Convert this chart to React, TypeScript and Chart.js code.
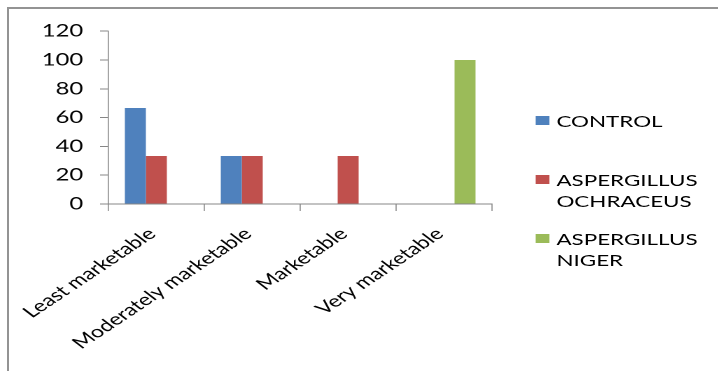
import { useEffect, useRef } from "react";
import { Chart, registerables } from "chart.js";

Chart.register(...registerables);

const categories = ["Least marketable", "Moderately marketable", "Marketable", "Very marketable"];
const seriesNames = ["CONTROL", "ASPERGILLUS OCHRACEUS", "ASPERGILLUS NIGER"];
const controlValues = [66.67, 33.33, 0, 0];
const ochraceusValues = [33.33, 33.33, 33.33, 0];
const nigerValues = [0, 0, 0, 100];
const seriesValues = [controlValues, ochraceusValues, nigerValues];
const seriesColors = ["#4F81BD", "#C0504D", "#9BBB59"];
const legendLines = [["CONTROL"], ["ASPERGILLUS", "OCHRACEUS"], ["ASPERGILLUS", "NIGER"]];
const legendTops = [101, 160, 219];
const yMin = 0;
const yMax = 120;
const yStep = 20;

const S = 1.4;
const FONT = "Lato, 'Open Sans', sans-serif";

export default function App() {
  const ref = useRef<HTMLCanvasElement>(null);
  useEffect(() => {
    const chart = new Chart(ref.current!, {
      type: "bar",
      data: {
        labels: categories,
        datasets: seriesNames.map((n, i) => ({
          label: n,
          data: seriesValues[i],
          backgroundColor: seriesColors[i],
          borderWidth: 0,
          categoryPercentage: 0.656,
          barPercentage: 1,
        })),
      },
      options: {
        animation: false,
        responsive: true,
        maintainAspectRatio: false,
        devicePixelRatio: 2,
        layout: { padding: { top: 20, right: 155, left: 0, bottom: 0 } },
        plugins: { legend: { display: false }, tooltip: { enabled: false } },
        scales: {
          x: {
            grid: {
              display: true,
              drawOnChartArea: false,
              drawTicks: true,
              tickLength: 7,
              color: "#868686",
              lineWidth: 0.75,
              offset: true,
            },
            border: { display: true, color: "#868686", width: 1 },
            ticks: {
              minRotation: 43,
              maxRotation: 43,
              padding: 13,
              labelOffset: -3,
              color: "#000",
              font: { family: FONT, size: 16.5 },
            },
            afterFit: (s: any) => {
              s.height = 167;
              s.paddingLeft = 0;
              s.paddingRight = 0;
            },
          },
          y: {
            min: yMin,
            max: yMax,
            ticks: {
              stepSize: yStep,
              padding: 12,
              color: "#000",
              font: { family: FONT, size: 17 },
            },
            grid: {
              drawOnChartArea: false,
              drawTicks: true,
              tickLength: 6,
              color: "#868686",
              lineWidth: 1,
            },
            border: { display: true, color: "#868686", width: 0.75 },
            afterFit: (s: any) => {
              s.width = 71;
            },
          },
        },
      },
    });
    return () => chart.destroy();
  }, []);

  return (
    <div
      style={{
        position: "fixed",
        top: 7,
        left: 7,
        right: 0,
        bottom: 0,
        overflow: "hidden",
        borderTop: "2px solid #939393",
        borderLeft: "2px solid #939393",
        background: "#fff",
      }}
    >
      <div
        style={{
          position: "absolute",
          left: 0,
          top: 0,
          width: 500,
          height: 362,
          transform: `scaleX(${S})`,
          transformOrigin: "0 0",
        }}
      >
        <div style={{ position: "relative", width: 500, height: 362 }}>
          <canvas ref={ref} />
        </div>
        {legendLines.map((lines, i) => (
          <div
            key={i}
            style={{
              position: "absolute",
              left: 376,
              top: legendTops[i],
              fontFamily: FONT,
              fontSize: 16,
              lineHeight: "21px",
              color: "#000",
            }}
          >
            <div
              style={{
                position: "absolute",
                left: 0,
                top: 6,
                width: 10,
                height: 9,
                background: seriesColors[i],
              }}
            />
            <div style={{ marginLeft: 15, whiteSpace: "nowrap" }}>
              {lines.map((l, j) => (
                <div key={j}>{l}</div>
              ))}
            </div>
          </div>
        ))}
      </div>
    </div>
  );
}
